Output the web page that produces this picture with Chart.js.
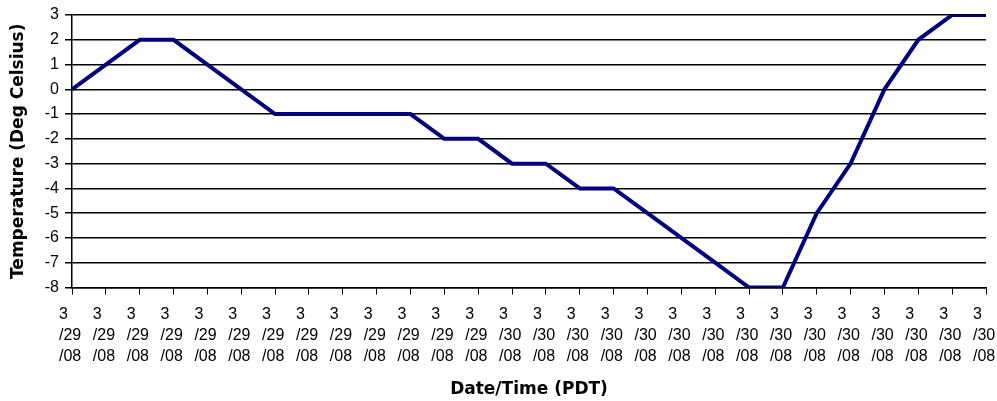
<!DOCTYPE html>
<html>
<head>
<meta charset="utf-8">
<title>Temperature (Deg Celsius)</title>
<script src="https://cdn.jsdelivr.net/npm/chart.js@4/dist/chart.umd.min.js"></script>
<style>
    body { margin: 0; background: #fff; }
    #tempChart { display: block; }
</style>
</head>
<body>
<canvas id="tempChart" width="997" height="401"></canvas>
<script>
// one reading per category, dates as shown on the axis
const dates = [
    '3/29/08', '3/29/08', '3/29/08', '3/29/08', '3/29/08', '3/29/08', '3/29/08',
    '3/29/08', '3/29/08', '3/29/08', '3/29/08', '3/29/08', '3/29/08',
    '3/30/08', '3/30/08', '3/30/08', '3/30/08', '3/30/08', '3/30/08', '3/30/08',
    '3/30/08', '3/30/08', '3/30/08', '3/30/08', '3/30/08', '3/30/08', '3/30/08', '3/30/08'
];
const temps = [
    0, 1, 2, 2, 1, 0, -1, -1, -1, -1, -1, -2, -2, -3,
    -3, -4, -4, -5, -6, -7, -8, -8, -5, -3, 0, 2, 3, 3
];
const tempMin = -8;
const tempMax = 3;
const tempStep = 1;

const xTitle = 'Date/Time (PDT)';
const yTitle = 'Temperature (Deg Celsius)';

Chart.defaults.color = '#000';
Chart.defaults.font.family = '"Liberation Sans", Arial, sans-serif';

function splitDate(label) {
    // "3/29/08" -> ["3", "/29", "/08"] like the wrapped labels
    const parts = label.split('/');
    return [parts[0], '/' + parts[1], '/' + parts[2]];
}

function createChart(canvasId) {
    const ctx = document.getElementById(canvasId)?.getContext('2d');
    if (!ctx) return;

    new Chart(ctx, {
        type: 'line',
        data: {
            labels: dates,
            datasets: [{
                label: yTitle,
                data: temps,
                borderColor: '#000080',
                borderWidth: 4,
                pointRadius: 0,
                tension: 0,
                fill: false
            }]
        },
        options: {
            responsive: false,
            animation: false,
            devicePixelRatio: 1,
            layout: {
                padding: {top: 15, right: 11, bottom: 0, left: 0}
            },
            plugins: {
                legend: {display: false},
                tooltip: {enabled: false}
            },
            scales: {
                x: {
                    offset: false,
                    grid: {
                        drawOnChartArea: false,
                        drawTicks: true,
                        tickLength: 7,
                        color: '#000',
                        lineWidth: 1
                    },
                    border: {color: '#000', width: 1.5},
                    ticks: {
                        autoSkip: false,
                        maxRotation: 0,
                        minRotation: 0,
                        align: 'start',
                        labelOffset: -13,
                        padding: 10,
                        font: {size: 16, lineHeight: 1.31},
                        callback: function (value) {
                            return splitDate(this.getLabelForValue(value));
                        }
                    },
                    title: {
                        display: true,
                        text: xTitle,
                        padding: {top: 0, bottom: 1},
                        font: {family: '"DejaVu Sans", sans-serif', size: 17, weight: 'bold'}
                    },
                    afterFit: (scale) => {
                        scale.height = 113.5;
                        scale.paddingLeft = 0;
                        scale.paddingRight = 0;
                    }
                },
                y: {
                    min: tempMin,
                    max: tempMax,
                    grid: {
                        color: '#000',
                        lineWidth: 1.5,
                        tickLength: 7
                    },
                    border: {color: '#000', width: 1.5},
                    ticks: {
                        stepSize: tempStep,
                        padding: 6,
                        font: {size: 16}
                    },
                    title: {
                        display: true,
                        text: yTitle,
                        padding: {top: 8, bottom: 0},
                        font: {family: '"DejaVu Sans", sans-serif', size: 17, weight: 'bold'}
                    },
                    afterFit: (scale) => {
                        scale.width = 72;
                        scale.paddingTop = 0;
                        scale.paddingBottom = 0;
                    }
                }
            }
        }
    });
}

createChart('tempChart');
</script>
</body>
</html>
